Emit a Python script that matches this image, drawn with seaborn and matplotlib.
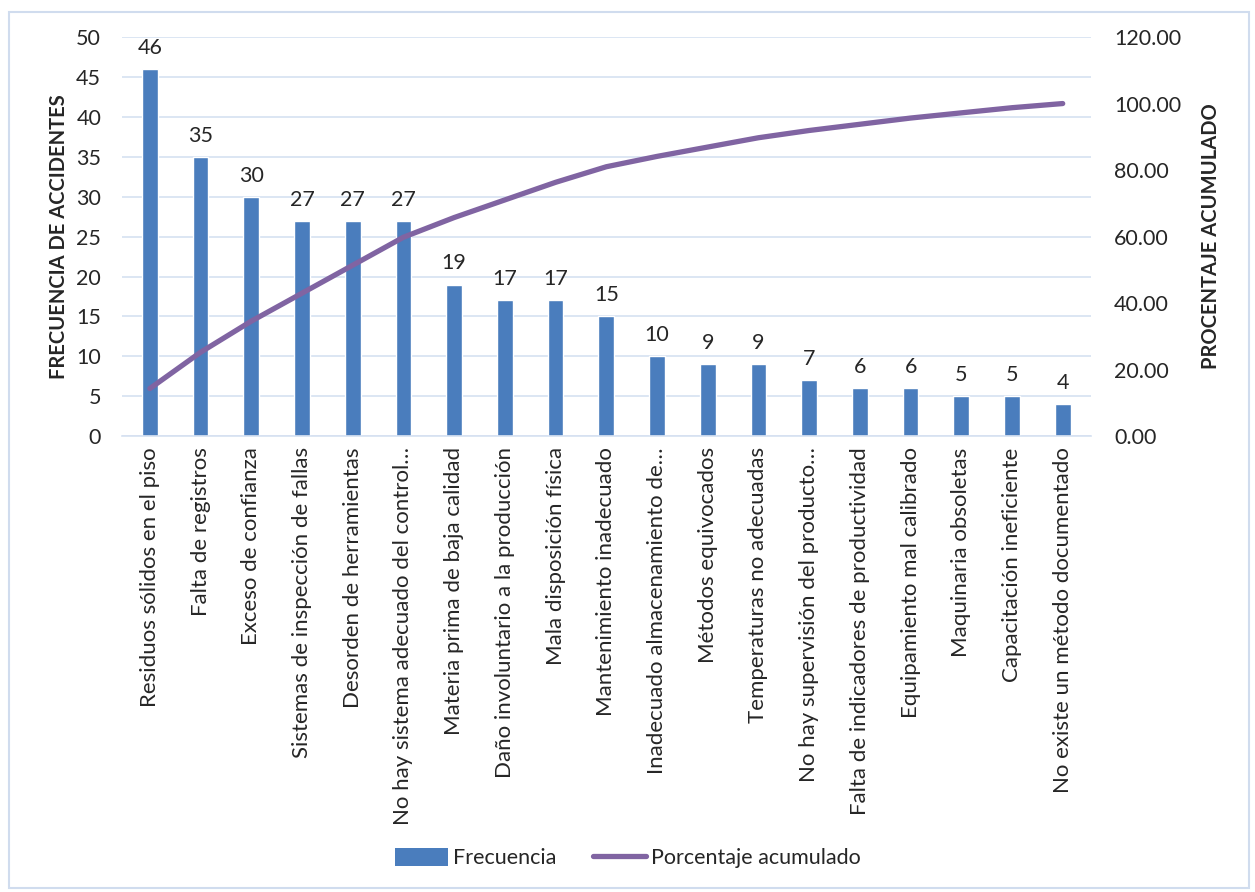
import numpy as np
import pandas as pd
import matplotlib
matplotlib.use("Agg")
import matplotlib.pyplot as plt
import seaborn as sns
from matplotlib.patches import Rectangle, Patch
from matplotlib.lines import Line2D

categorias = [
    "Residuos sólidos en el piso",
    "Falta de registros",
    "Exceso de confianza",
    "Sistemas de inspección de fallas",
    "Desorden de herramientas",
    "No hay sistema adecuado del control…",
    "Materia prima de baja calidad",
    "Daño involuntario a la producción",
    "Mala disposición física",
    "Mantenimiento inadecuado",
    "Inadecuado almacenamiento de…",
    "Métodos equivocados",
    "Temperaturas no adecuadas",
    "No hay supervisión del producto…",
    "Falta de indicadores de productividad",
    "Equipamiento mal calibrado",
    "Maquinaria obsoletas",
    "Capacitación ineficiente",
    "No existe un método documentado",
]
frecuencia = [46, 35, 30, 27, 27, 27, 19, 17, 17, 15, 10, 9, 9, 7, 6, 6, 5, 5, 4]
porcentaje_acumulado = [14.33, 25.23, 34.58, 42.99, 51.40, 59.81, 65.73, 71.03, 76.32,
                        81.00, 84.11, 86.92, 89.72, 91.90, 93.77, 95.64, 97.20, 98.75, 100.00]
ticks_izq = list(range(0, 51, 5))
ticks_der = [0, 20, 40, 60, 80, 100, 120]

sns.set_theme(style="white")
plt.rcParams['font.family'] = ['Lato', 'DejaVu Sans']

BAR_COLOR = "#4a7dbd"
LINE_COLOR = "#8064a2"
GRID_COLOR = "#d6e1f1"
FS = 15.5

df = pd.DataFrame({"cat": categorias, "freq": frecuencia, "pos": np.arange(len(categorias)),
                   "pct": porcentaje_acumulado})

fig = plt.figure(figsize=(12.55, 8.92), dpi=100)
ax = fig.add_axes([0.0972, 0.511, 0.7718, 0.4475])

sns.barplot(data=df, x="cat", y="freq", color=BAR_COLOR, width=0.31, ax=ax,
            saturation=1, order=categorias)
ax.set_ylim(0, 50)
ax.set_yticks(ticks_izq)
ax.yaxis.grid(True, color=GRID_COLOR, linewidth=1.2)
ax.set_axisbelow(True)
for s in ax.spines.values():
    s.set_visible(False)
ax.spines['bottom'].set_visible(True)
ax.spines['bottom'].set_color(GRID_COLOR)
ax.spines['bottom'].set_linewidth(1.2)
ax.set_xlim(-0.55, len(categorias) - 0.45)
ax.tick_params(axis='x', labelrotation=90, labelsize=16, length=0, pad=8)
ax.tick_params(axis='y', labelsize=FS, length=0, pad=15)
ax.set_xlabel("")
ax.set_ylabel("FRECUENCIA DE ACCIDENTES", fontsize=14.5, fontweight='bold', labelpad=5)
ax.bar_label(ax.containers[0], fontsize=FS, padding=8)

ax2 = ax.twinx()
sns.lineplot(data=df, x="pos", y="pct", color=LINE_COLOR, linewidth=3.8, ax=ax2,
             solid_capstyle='round')
ax2.set_ylim(0, 120)
ax2.set_yticks(ticks_der)
ax2.set_yticklabels([f"{v:.2f}" for v in ticks_der])
ax2.tick_params(axis='y', labelsize=FS, length=0, pad=17)
ax2.set_ylabel("PROCENTAJE ACUMULADO", fontsize=14.5, fontweight='bold', labelpad=14)
ax2.set_xlabel("")
for s in ax2.spines.values():
    s.set_visible(False)
ax2.grid(False)

handles = [Patch(facecolor=BAR_COLOR, edgecolor='none'),
           Line2D([0], [0], color=LINE_COLOR, linewidth=3.8, solid_capstyle='round')]
fig.legend(handles, ["Frecuencia", "Porcentaje acumulado"], loc='center',
           bbox_to_anchor=(0.5, 0.038), ncol=2, frameon=False, fontsize=FS,
           handlelength=2.5, handleheight=0.9, columnspacing=1.7, handletextpad=0.2)

fig.patches.append(Rectangle((0.007, 0.005), 0.988, 0.982, transform=fig.transFigure,
                             fill=False, edgecolor="#d0dcee", linewidth=1.5))

fig.savefig("out.png", dpi=100)
